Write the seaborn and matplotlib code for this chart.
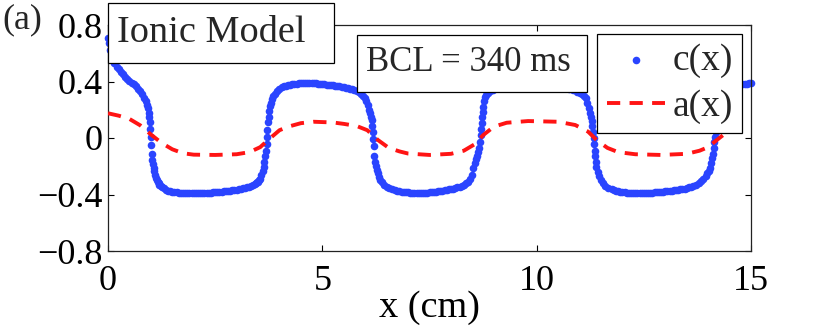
import matplotlib
matplotlib.use("Agg")
import matplotlib.pyplot as plt
from matplotlib.patches import Rectangle
import seaborn as sns

# ---------------- data ----------------
# c(x)
decay0_x = [0, 0.02, 0.05, 0.1, 0.15, 0.2, 0.25, 0.3, 0.35, 0.4, 0.45, 0.5, 0.55, 0.6, 0.65, 0.7, 0.75, 0.8, 0.85, 0.88, 0.91]
decay0_c = [0.71, 0.67, 0.62, 0.565, 0.53, 0.505, 0.485, 0.465, 0.45, 0.435, 0.42, 0.405, 0.39, 0.38, 0.365, 0.35, 0.33, 0.31, 0.285, 0.265, 0.235]

down1_x = [0.93, 0.945, 0.96, 0.975, 0.99, 1.0, 1.01, 1.02, 1.035, 1.05, 1.065, 1.08, 1.1, 1.12, 1.14, 1.16, 1.18, 1.2, 1.23, 1.26, 1.3, 1.35, 1.4, 1.45, 1.5]
down1_c = [0.21, 0.18, 0.15, 0.11, 0.065, 0.01, -0.05, -0.115, -0.155, -0.185, -0.21, -0.235, -0.26, -0.28, -0.295, -0.31, -0.32, -0.33, -0.34, -0.35, -0.357, -0.365, -0.372, -0.377, -0.381]

low1_x = [1.55, 1.6, 1.65, 1.7, 1.75, 1.8, 1.85, 1.9, 1.95, 2.0, 2.05, 2.1, 2.15, 2.2, 2.25, 2.3, 2.35, 2.4, 2.45, 2.5,
          2.55, 2.6, 2.65, 2.7, 2.75, 2.8, 2.85, 2.9, 2.95, 3.0, 3.05, 3.1, 3.15, 3.2, 3.25, 3.3, 3.34, 3.38, 3.42, 3.45, 3.48, 3.5, 3.53, 3.55]
low1_c = [-0.383, -0.384, -0.386, -0.387, -0.388, -0.389, -0.389, -0.39, -0.39, -0.39, -0.39, -0.39, -0.389, -0.389, -0.388, -0.388, -0.387, -0.386, -0.385, -0.384,
          -0.382, -0.381, -0.379, -0.378, -0.376, -0.374, -0.372, -0.37, -0.367, -0.365, -0.362, -0.36, -0.357, -0.354, -0.35, -0.345, -0.34, -0.335, -0.328, -0.322, -0.315, -0.308, -0.3, -0.29]

up1_x = [3.58, 3.61, 3.63, 3.65, 3.67, 3.685, 3.7, 3.71, 3.72, 3.73, 3.745, 3.76, 3.78, 3.8, 3.83, 3.86, 3.9, 3.95, 4.0, 4.05, 4.1, 4.15, 4.2, 4.25, 4.3]
up1_c = [-0.265, -0.235, -0.205, -0.17, -0.13, -0.09, -0.04, 0.01, 0.06, 0.11, 0.15, 0.19, 0.225, 0.25, 0.275, 0.295, 0.315, 0.335, 0.348, 0.358, 0.365, 0.37, 0.374, 0.377, 0.38]

high1_x = [4.35, 4.4, 4.45, 4.5, 4.55, 4.6, 4.65, 4.7, 4.75, 4.8, 4.85, 4.9, 4.95, 5.0, 5.05, 5.1, 5.15, 5.2, 5.25, 5.3,
           5.35, 5.4, 5.45, 5.5, 5.55, 5.6, 5.65, 5.7, 5.75, 5.8, 5.85, 5.9, 5.95, 6.0]
high1_c = [0.382, 0.384, 0.386, 0.387, 0.388, 0.388, 0.388, 0.388, 0.388, 0.387, 0.386, 0.385, 0.384, 0.382, 0.38, 0.378, 0.376, 0.374, 0.372, 0.37,
           0.368, 0.365, 0.362, 0.359, 0.356, 0.352, 0.348, 0.344, 0.339, 0.333, 0.325, 0.315, 0.30, 0.28]

down2_x = [6.03, 6.06, 6.09, 6.11, 6.13, 6.15, 6.165, 6.175, 6.185, 6.195, 6.21, 6.23, 6.25, 6.27, 6.29, 6.32, 6.35, 6.39, 6.44, 6.5, 6.56, 6.63, 6.7, 6.75, 6.8, 6.85, 6.9]
down2_c = [0.26, 0.235, 0.2, 0.175, 0.15, 0.125, 0.085, 0.045, -0.01, -0.06, -0.13, -0.17, -0.2, -0.225, -0.25, -0.275, -0.295, -0.315, -0.33, -0.345, -0.355, -0.364, -0.371, -0.374, -0.377, -0.38, -0.382]

low2_x = [6.95, 7.0, 7.05, 7.1, 7.15, 7.2, 7.25, 7.3, 7.35, 7.4, 7.45, 7.5, 7.55, 7.6, 7.65, 7.7, 7.75, 7.8, 7.85, 7.9,
          7.95, 8.0, 8.05, 8.1, 8.15, 8.2, 8.25, 8.3, 8.35, 8.4, 8.45, 8.49]
low2_c = [-0.384, -0.385, -0.386, -0.387, -0.388, -0.388, -0.388, -0.388, -0.388, -0.387, -0.386, -0.385, -0.384, -0.382, -0.38, -0.378, -0.376, -0.373, -0.37, -0.367,
          -0.364, -0.361, -0.358, -0.354, -0.35, -0.345, -0.339, -0.332, -0.322, -0.31, -0.29, -0.26]

up2_x = [8.52, 8.56, 8.59, 8.61, 8.635, 8.66, 8.675, 8.69, 8.705, 8.72, 8.73, 8.74, 8.75, 8.77, 8.79, 8.82, 8.86, 8.91, 8.97, 9.05, 9.15, 9.25]
up2_c = [-0.215, -0.18, -0.15, -0.13, -0.1, -0.07, -0.025, 0.02, 0.065, 0.105, 0.15, 0.185, 0.22, 0.26, 0.29, 0.305, 0.32, 0.33, 0.342, 0.355, 0.365, 0.372]

high2_x = [9.35, 9.45, 9.55, 9.65, 9.75, 9.85, 9.95, 10.05, 10.15, 10.25, 10.35, 10.45, 10.55, 10.65, 10.75, 10.85, 10.95, 11.0, 11.05]
high2_c = [0.377, 0.381, 0.384, 0.386, 0.387, 0.387, 0.386, 0.384, 0.381, 0.378, 0.374, 0.37, 0.365, 0.358, 0.35, 0.34, 0.327, 0.32, 0.312]

down3_x = [11.1, 11.14, 11.18, 11.21, 11.24, 11.265, 11.285, 11.3, 11.315, 11.33, 11.34, 11.35, 11.36, 11.375, 11.395, 11.42, 11.45, 11.49, 11.54, 11.6,
           11.67, 11.75, 11.8, 11.85, 11.9, 11.95]
down3_c = [0.3, 0.28, 0.245, 0.21, 0.18, 0.15, 0.12, 0.085, 0.045, 0.0, -0.04, -0.09, -0.13, -0.17, -0.205, -0.24, -0.27, -0.295, -0.318, -0.338,
           -0.352, -0.364, -0.37, -0.374, -0.377, -0.38]

low3_x = [12.0, 12.05, 12.1, 12.15, 12.2, 12.25, 12.3, 12.35, 12.4, 12.45, 12.5, 12.55, 12.6, 12.65, 12.7, 12.75, 12.8, 12.85, 12.9, 12.95,
          13.0, 13.05, 13.1, 13.15, 13.2, 13.25, 13.3, 13.35, 13.4, 13.45, 13.5, 13.55, 13.6, 13.65, 13.72, 13.78, 13.84, 13.89, 13.94, 13.98]
low3_c = [-0.382, -0.384, -0.386, -0.387, -0.388, -0.389, -0.39, -0.39, -0.39, -0.39, -0.39, -0.389, -0.388, -0.387, -0.386, -0.385, -0.384, -0.382, -0.381, -0.379,
          -0.378, -0.376, -0.375, -0.373, -0.371, -0.369, -0.367, -0.364, -0.361, -0.358, -0.354, -0.35, -0.345, -0.34, -0.33, -0.32, -0.305, -0.29, -0.27, -0.25]

up3_x = [14.02, 14.05, 14.075, 14.1, 14.12, 14.13, 14.14, 14.16, 14.18, 14.195, 14.21, 14.225, 14.24, 14.26, 14.29, 14.32, 14.36, 14.41, 14.47, 14.55,
         14.65, 14.75, 14.8, 14.85, 14.9, 14.95, 15.0]
up3_c = [-0.235, -0.21, -0.18, -0.145, -0.11, -0.07, -0.03, 0.01, 0.045, 0.09, 0.13, 0.17, 0.2, 0.23, 0.26, 0.285, 0.305, 0.325, 0.34, 0.355,
         0.367, 0.376, 0.379, 0.382, 0.384, 0.386, 0.388]

# a(x)
a_x = [0, 0.25, 0.5, 0.75, 1.0, 1.25, 1.5, 1.75, 2.0, 2.5, 3.0, 3.3, 3.55, 3.75, 4.0, 4.2, 4.5, 4.8, 5.25, 5.5,
       5.8, 6.05, 6.3, 6.55, 6.8, 7.0, 7.5, 8.0, 8.3, 8.55, 8.75, 9.0, 9.3, 9.8, 10.5, 10.9, 11.2, 11.4, 11.65, 11.9,
       12.3, 12.9, 13.5, 13.8, 14.0, 14.2, 14.45, 14.7, 15.0]
a_val = [0.175, 0.158, 0.135, 0.09, 0.025, -0.035, -0.08, -0.108, -0.118, -0.12, -0.115, -0.1, -0.065, -0.01, 0.055, 0.08, 0.105, 0.115, 0.11, 0.1,
         0.085, 0.055, -0.015, -0.07, -0.095, -0.11, -0.12, -0.112, -0.09, -0.045, 0.02, 0.08, 0.108, 0.12, 0.115, 0.092, 0.045, -0.015, -0.07, -0.1,
         -0.115, -0.12, -0.112, -0.09, -0.065, -0.015, 0.045, 0.085, 0.105]

x_ticks = [0, 5, 10, 15]
x_tick_labels = ["0", "5", "10", "15"]
y_ticks = [-0.8, -0.4, 0, 0.4, 0.8]
y_tick_labels = ["\u22120.8", "\u22120.4", "0", "0.4", "0.8"]
series_labels = ["c(x)", "a(x)"]
model_text = "Ionic Model"
bcl_text = "BCL = 340 ms"
panel_text = "(a)"
x_label = "x (cm)"

c_pieces = [(decay0_x, decay0_c), (down1_x, down1_c), (low1_x, low1_c), (up1_x, up1_c),
            (high1_x, high1_c), (down2_x, down2_c), (low2_x, low2_c), (up2_x, up2_c),
            (high2_x, high2_c), (down3_x, down3_c), (low3_x, low3_c), (up3_x, up3_c)]
c_x, c_val = [], []
for px_, pc_ in c_pieces:
    assert len(px_) == len(pc_)
    c_x += px_
    c_val += pc_
assert len(a_x) == len(a_val)

# ---------------- style ----------------
BLUE = "#2a44ff"
RED = "#ff1414"
FS = 26
W, H = 830, 333

sns.set_theme(style="ticks")
plt.rcParams["font.family"] = ["Liberation Serif", "DejaVu Serif"]
plt.rcParams["axes.unicode_minus"] = True

fig = plt.figure(figsize=(W / 100, H / 100), dpi=100)
fig.patch.set_facecolor("white")
ax = fig.add_axes([108 / W, 1 - 251 / H, (751 - 108) / W, (251 - 25) / H])

sns.scatterplot(x=c_x, y=c_val, ax=ax, color=BLUE, s=30, linewidth=0,
                label=series_labels[0], clip_on=False, zorder=2)
sns.lineplot(x=a_x, y=a_val, ax=ax, color=RED, linewidth=2.8,
             linestyle=(0, (3.4, 2.4)), label=series_labels[1], zorder=3)

ax.set_xlim(0, 15)
ax.set_ylim(-0.8, 0.8)
ax.set_xticks(x_ticks)
ax.set_xticklabels(x_tick_labels)
ax.set_yticks(y_ticks)
ax.set_yticklabels(y_tick_labels)
ax.tick_params(direction="in", length=4.5, width=0.8, top=True, right=True,
               labelsize=FS, colors="black")
ax.tick_params(axis="x", pad=10)
ax.tick_params(axis="y", pad=4)
for sp in ax.spines.values():
    sp.set_visible(True)
    sp.set_linewidth(0.9)
    sp.set_color("#222222")
ax.set_xlabel(x_label, fontsize=27.5, color="black")
ax.xaxis.set_label_coords(0.5, -0.175)
ax.set_ylabel("")
ax.set_facecolor("white")

handles, labels = ax.get_legend_handles_labels()
leg = ax.legend(handles, labels, loc="upper right",
                bbox_to_anchor=(742 / W, 1 - 34 / H), bbox_transform=fig.transFigure,
                borderaxespad=0, fontsize=27, frameon=True, fancybox=False,
                framealpha=1, edgecolor="black", borderpad=0.25, labelspacing=0.3,
                handlelength=1.55, handletextpad=0.2, markerscale=1.0)
leg.get_frame().set_linewidth(0.9)
leg.set_zorder(10)

# text boxes
def box(x0, y0, x1, y1):
    r = Rectangle((x0 / W, 1 - y1 / H), (x1 - x0) / W, (y1 - y0) / H,
                  transform=fig.transFigure, facecolor="white", edgecolor="black",
                  linewidth=0.9, zorder=20)
    fig.add_artist(r)

box(108, 3, 334, 63)
fig.text(117 / W, 1 - 42 / H, model_text, fontsize=27.5, ha="left", va="baseline", zorder=21)
box(357, 35, 587, 92)
fig.text(366 / W, 1 - 71 / H, bcl_text, fontsize=25, ha="left", va="baseline", zorder=21)
fig.text(2 / W, 1 - 28 / H, panel_text, fontsize=FS, ha="left", va="baseline", zorder=21)

fig.savefig("out.png", dpi=100, facecolor="white")
